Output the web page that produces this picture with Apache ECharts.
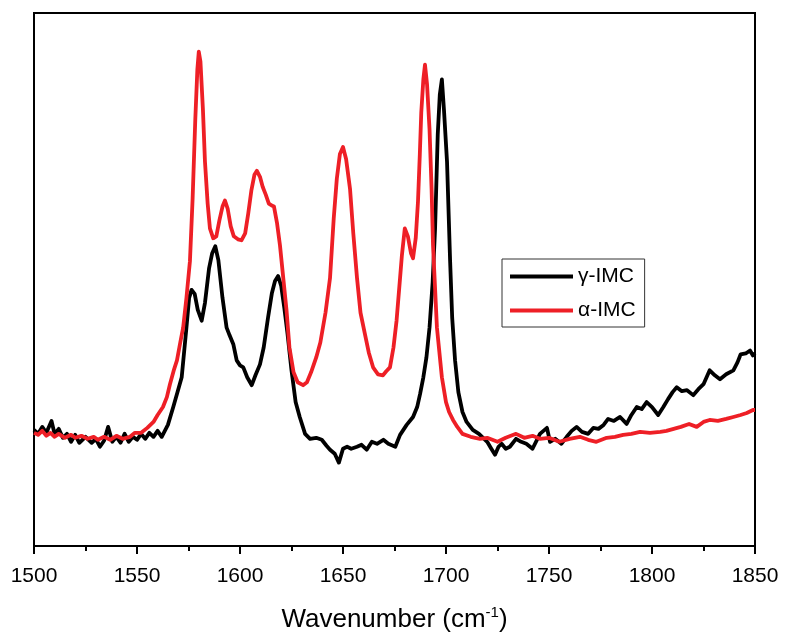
<!DOCTYPE html>
<html>
<head>
<meta charset="utf-8">
<script src="https://cdn.jsdelivr.net/npm/echarts@6/dist/echarts.min.js"></script>
<style>
  html, body { margin: 0; padding: 0; background: #fff; }
  #chart { width: 785px; height: 640px; }
</style>
</head>
<body>
<div id="chart"></div>
<script>
// gamma-IMC : wavenumber (cm-1) / intensity (a.u.)
var gammaWn = [1500,1502,1504,1506,1508.5,1510,1512,1514,1516,1518,1520,1522,1525,1528,1530,1532,1534,1536,1538,1540,1542,1544,1546,1548,1550,1552,1554,1556,1558,1560,1562,1564,1565,1567.6,1569.5,1571.7,1574,1575.3,1576.5,1578,1579.5,1581.4,1583,1585,1586.5,1588,1589.5,1591.5,1593.5,1595,1596.8,1598.4,1600,1601.6,1603.5,1605.7,1607.5,1609.7,1611.5,1613.6,1615.5,1617,1618.5,1620,1621.5,1623,1625,1627,1629,1631.6,1634,1637,1639.7,1642,1643.7,1646,1648,1650,1652,1654,1656.8,1659,1661.5,1664,1666.5,1669.6,1672,1675.4,1677.7,1680.9,1684,1686,1687.4,1689,1690.5,1692,1693.5,1694.7,1696,1697,1698,1699,1700.5,1702,1703,1704.4,1706,1708,1710,1713,1716,1718,1720,1722,1723.8,1725.5,1727,1729,1731,1734,1736.5,1739,1742,1745.6,1749,1750.5,1753,1756,1758.6,1761,1763.4,1766,1769,1771.5,1774,1776.5,1778.7,1781.5,1784.5,1787.7,1790,1792.6,1795,1797.4,1800,1803,1805.5,1807.8,1810,1812,1814.5,1817,1820,1822.5,1825,1828,1830.5,1833,1836,1839.5,1841.5,1843,1845.5,1847.6,1849,1850];
var gammaVal = [117,113,120,114,126,113,118,109,113,105,112,104,110,104,108,100,106,120,105,110,104,113,105,110,107,113,108,114,110,116,110,118,122,140,154,170,220,250,258,254,238,227,245,280,295,302,288,250,220,212,203,187,182,180,170,162,172,183,200,230,255,267,272,262,240,215,177,145,130,113,108,109,107,101,97,93,84,98,100,98,100,102,97,105,103,107,103,100,112,122,130,140,153,170,190,220,265,320,415,455,470,440,387,287,230,187,155,135,125,117,113,109,105,98,92,100,103,98,100,108,105,103,98,113,119,105,108,103,110,116,120,115,113,119,118,122,128,126,130,123,132,140,138,145,140,132,140,148,155,160,156,157,152,158,163,177,172,168,173,177,185,193,194,197,192,194];

// alpha-IMC
var alphaWn = [1500,1502,1504,1506,1508,1510,1512,1515,1518,1520,1523,1526,1529,1531,1534,1537,1540,1543,1546.6,1549,1552,1555,1558,1560,1562.6,1564.5,1566,1568,1569.4,1571,1572.4,1574,1575.7,1577,1578.3,1579.3,1580,1580.8,1582,1583,1584.3,1585.4,1587,1588.5,1590,1591.5,1592.7,1594,1595.5,1597,1599,1600.7,1602.5,1604,1605.5,1607,1608.2,1609.7,1611,1612.5,1614,1615.4,1616.5,1618,1619.4,1621,1622.6,1624,1626,1628,1630.6,1632.5,1634.5,1637,1639,1641.5,1643.7,1645.5,1647,1648.5,1650,1651.5,1653.4,1655,1656.8,1658.5,1660.7,1662.5,1664.6,1667,1669.4,1671,1672.8,1674.5,1676,1677.5,1678.6,1680,1681.5,1683,1684,1685.3,1686.4,1687.3,1688,1689,1689.8,1690.8,1692,1693,1693.7,1695.6,1698,1700,1701.5,1703.4,1705.5,1708,1712,1716.5,1720,1725,1729,1734,1738,1742,1745.6,1750,1755,1760,1765,1769,1773,1778,1782,1786,1790,1794.2,1799,1804,1807,1810.5,1814,1818,1821.7,1825,1828,1832,1836,1839.5,1843,1846,1849,1850];
var alphaVal = [114,112,116,111,114,110,113,109,112,109,111,108,110,107,110,107,111,108,110,114,114,119,125,132,140,150,163,178,187,205,220,250,287,350,430,480,498,488,440,387,345,320,310,312,328,342,348,340,322,312,309,308,315,335,358,374,378,372,362,354,345,343,342,325,303,270,237,200,175,165,162,165,175,190,205,235,270,330,370,395,402,390,360,315,270,235,213,195,180,173,172,176,180,200,227,265,293,320,312,295,290,310,347,395,437,470,485,465,420,360,303,220,170,145,135,127,120,113,110,108,109,105,109,113,109,111,108,109,105,108,110,107,105,109,110,112,113,115,114,115,116,118,120,123,120,125,127,126,128,130,132,134,137,137];

var xTicks = { min: 1500, max: 1850, step: 50 };

function pairs(xs, ys) {
  return xs.map(function (x, i) { return [x, ys[i]]; });
}

var myChart = echarts.init(document.getElementById("chart"));

var option = {
  animation: false,
  backgroundColor: "#fff",
  grid: {
    left: 34,
    right: 30,
    top: 13,
    bottom: 90,
    show: true,
    borderColor: "#000",
    borderWidth: 2,
    containLabel: false
  },
  legend: {
    orient: "vertical",
    left: 502,
    top: 259,
    padding: [7, 9, 6, 8],
    itemGap: 13,
    itemWidth: 63,
    itemHeight: 4,
    icon: "rect",
    borderColor: "#333",
    borderWidth: 1,
    textStyle: {
      fontFamily: "Liberation Sans",
      fontSize: 21,
      color: "#000"
    },
    data: ["γ-IMC", "α-IMC"]
  },
  xAxis: {
    type: "value",
    min: xTicks.min,
    max: xTicks.max,
    interval: xTicks.step,
    name: "Wavenumber (cm{sup|-1})",
    nameLocation: "middle",
    nameGap: 59,
    nameTextStyle: {
      fontFamily: "Liberation Sans",
      fontSize: 26,
      color: "#000",
      lineHeight: 30,
      rich: {
        sup: {
          fontFamily: "Liberation Sans",
          fontSize: 15,
          color: "#000",
          verticalAlign: "top",
          lineHeight: 16
        }
      }
    },
    axisLine: { show: true, lineStyle: { color: "#000", width: 2 } },
    axisTick: { show: true, length: 8, lineStyle: { color: "#000", width: 2 } },
    minorTick: { show: true, splitNumber: 2, length: 5, lineStyle: { color: "#000", width: 2 } },
    axisLabel: {
      margin: 20,
      fontFamily: "Liberation Sans",
      fontSize: 21,
      color: "#000",
      formatter: function (v) { return String(v); }
    },
    splitLine: { show: false }
  },
  yAxis: {
    type: "value",
    min: 0,
    max: 537,
    axisLine: { show: true, lineStyle: { color: "#000", width: 2 } },
    axisTick: { show: false },
    axisLabel: { show: false },
    splitLine: { show: false }
  },
  series: [
    {
      name: "γ-IMC",
      type: "line",
      showSymbol: false,
      symbol: "none",
      color: "#000",
      lineStyle: { color: "#000", width: 3.8, join: "round" },
      data: pairs(gammaWn, gammaVal)
    },
    {
      name: "α-IMC",
      type: "line",
      showSymbol: false,
      symbol: "none",
      color: "#ee1f26",
      lineStyle: { color: "#ee1f26", width: 3.8, join: "round" },
      data: pairs(alphaWn, alphaVal)
    }
  ]
};

myChart.setOption(option);
window.addEventListener("resize", function () {
  myChart.resize();
});
</script>
</body>
</html>
